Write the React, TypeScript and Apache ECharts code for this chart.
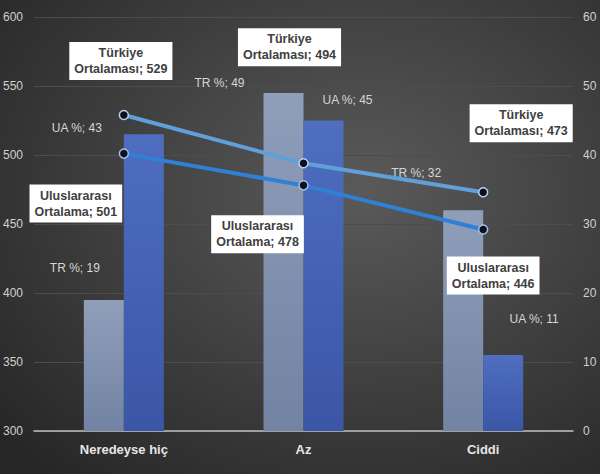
import React, { useEffect, useRef } from "react";
import * as echarts from "echarts";

const categories = ["Neredeyse hiç", "Az", "Ciddi"];
const trPercent = [19, 49, 32];
const uaPercent = [43, 45, 11];
const turkiyeOrt = [529, 494, 473];
const uluslararasiOrt = [501, 478, 446];

const leftTicks = { min: 300, max: 600, interval: 50 };
const rightTicks = { min: 0, max: 60, interval: 10 };

// label offsets (style only)
const trOffsets = [[-29, -26], [-64, -4], [-47, -31]];
const uaOffsets = [[-67, 0], [24, -15], [31, -30]];
const tOffsets = [[-3, -54], [-14, -116], [38, -69]];
const uOffsets = [[-48, 50], [-46, 49], [10, 46]];

const FONT = "'Liberation Sans', Arial, sans-serif";

export default function App() {
  const ref = useRef<HTMLDivElement>(null);
  useEffect(() => {
    if (!ref.current) return;
    const chart = echarts.init(ref.current, undefined, { renderer: "svg" });

    const barLabel = (name: string) => ({
      show: true,
      position: "top" as const,
      distance: 0,
      color: "#d6d6d6",
      fontSize: 12,
      fontFamily: FONT,
      formatter: (p: any) => `${name}; ${p.value}`,
    });
    const lineLabel = (name: string) => ({
      show: true,
      position: "inside" as const,
      color: "#404040",
      fontSize: 12.5,
      fontWeight: "bold" as const,
      fontFamily: FONT,
      backgroundColor: "#ffffff",
      padding: [3, 5, 3, 5],
      lineHeight: 16,
      align: "center" as const,
      formatter: (p: any) => `${name.split(" ")[0]}\n${name.split(" ")[1]}; ${p.value}`,
    });

    chart.setOption({
      animation: false,
      backgroundColor: {
        type: "radial",
        x: 0.6,
        y: 0.4,
        r: 0.8,
        colorStops: [
          { offset: 0, color: "#5a5a5a" },
          { offset: 1, color: "#262626" },
        ],
      },
      grid: { left: 33, right: 27, top: 17, bottom: 43, containLabel: false },
      xAxis: {
        type: "category",
        data: categories,
        axisLine: { lineStyle: { color: "#bfbfbf", width: 1.5 } },
        axisTick: { show: false },
        axisLabel: {
          color: "#e6e6e6",
          fontSize: 13,
          fontWeight: "bold",
          fontFamily: FONT,
          margin: 12,
        },
      },
      yAxis: [
        {
          type: "value",
          ...leftTicks,
          axisLine: { show: false },
          axisTick: { show: false },
          splitLine: { lineStyle: { color: "#4d4d4d", width: 1 } },
          axisLabel: { color: "#d0d0d0", fontSize: 12, fontFamily: FONT, margin: 11 },
        },
        {
          type: "value",
          ...rightTicks,
          axisLine: { show: false },
          axisTick: { show: false },
          splitLine: { show: false },
          axisLabel: { color: "#d0d0d0", fontSize: 12, fontFamily: FONT, margin: 10 },
        },
      ],
      series: [
        {
          name: "TR %",
          type: "bar",
          yAxisIndex: 1,
          barWidth: 40,
          barGap: "0%",
          itemStyle: {
            color: {
              type: "linear", x: 0, y: 0, x2: 0, y2: 1,
              colorStops: [
                { offset: 0, color: "#8f9fba" },
                { offset: 1, color: "#7283a3" },
              ],
            },
          },
          data: trPercent.map((v, i) => ({
            value: v,
            label: { ...barLabel("TR %"), offset: trOffsets[i] },
          })),
          z: 1,
        },
        {
          name: "UA %",
          type: "bar",
          yAxisIndex: 1,
          barWidth: 40,
          barGap: "0%",
          itemStyle: {
            color: {
              type: "linear", x: 0, y: 0, x2: 0, y2: 1,
              colorStops: [
                { offset: 0, color: "#4f6ec0" },
                { offset: 1, color: "#3b56a5" },
              ],
            },
          },
          data: uaPercent.map((v, i) => ({
            value: v,
            label: { ...barLabel("UA %"), offset: uaOffsets[i] },
          })),
          z: 1,
        },
        {
          name: "Türkiye Ortalaması",
          type: "line",
          yAxisIndex: 0,
          symbol: "circle",
          symbolSize: 9,
          lineStyle: { color: "#5fa0da", width: 4 },
          itemStyle: { color: "#0d0f1a", borderColor: "#b9d3ee", borderWidth: 1.5 },
          data: turkiyeOrt.map((v, i) => ({
            value: v,
            label: { ...lineLabel("Türkiye Ortalaması"), offset: tOffsets[i] },
          })),
          z: 3,
        },
        {
          name: "Uluslararası Ortalama",
          type: "line",
          yAxisIndex: 0,
          symbol: "circle",
          symbolSize: 9,
          lineStyle: { color: "#2f80d6", width: 4 },
          itemStyle: { color: "#0d0f1a", borderColor: "#9cc2ea", borderWidth: 1.5 },
          data: uluslararasiOrt.map((v, i) => ({
            value: v,
            label: { ...lineLabel("Uluslararası Ortalama"), offset: uOffsets[i] },
          })),
          z: 3,
        },
      ],
    });
    return () => chart.dispose();
  }, []);
  return (
    <div
      ref={ref}
      style={{ width: 600, height: 474, position: "absolute", left: 0, top: 0 }}
    />
  );
}
